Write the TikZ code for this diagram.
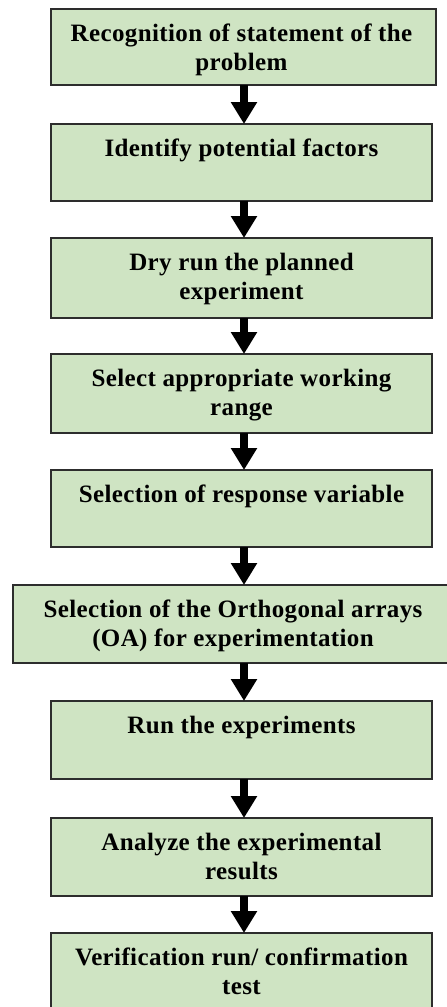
\documentclass[tikz,border=0pt]{standalone}
\usepackage{fontspec}
\setmainfont{Liberation Serif}[LetterSpace=1.5]
\usetikzlibrary{arrows.meta}

\definecolor{stepfill}{RGB}{207,228,195}
\definecolor{stepline}{RGB}{45,45,45}

\tikzset{
  stepbox/.style={draw=stepline, line width=1.6pt, fill=stepfill,
    inner sep=0pt, outer sep=0pt},
  steptext/.style={anchor=north, inner sep=0pt, align=center,
    font=\fontsize{25}{29.5}\selectfont\bfseries},
  flow/.style={line width=7.5pt, draw=black,
    -{Triangle[width=25pt,length=22pt]}},
}

% first-line strut so that every label's baseline sits 32pt below its box top
\newcommand\firstline{\rule{0pt}{20pt}}

\begin{document}
\begin{tikzpicture}[x=1pt,y=-1pt]
  \useasboundingbox (0,0) rectangle (447,1007);
  \clip (0,0) rectangle (447,1007);

  % process steps
  \node[stepbox, minimum width=385pt, minimum height=76pt] (b1) at (243.5,47) {};
  \node[stepbox, minimum width=381pt, minimum height=77pt] (b2) at (241.5,162.5) {};
  \node[stepbox, minimum width=381pt, minimum height=80pt] (b3) at (241.5,278) {};
  \node[stepbox, minimum width=381pt, minimum height=79pt] (b4) at (241.5,393.5) {};
  \node[stepbox, minimum width=381pt, minimum height=77pt] (b5) at (241.5,508.5) {};
  \node[stepbox, minimum width=450pt, minimum height=78pt] (b6) at (238,624) {};
  \node[stepbox, minimum width=381pt, minimum height=78pt] (b7) at (241.5,740) {};
  \node[stepbox, minimum width=381pt, minimum height=78pt] (b8) at (241.5,857) {};
  \node[stepbox, minimum width=381pt, minimum height=87pt] (b9) at (241.5,976.5) {};

  % step labels
  \node[steptext] (t1) at (241.5,21) {\firstline Recognition of statement of the\\problem};
  \node[steptext] (t2) at ([yshift=-12pt]b2.north) {\firstline Identify potential factors};
  \node[steptext] (t3) at ([yshift=-12pt]b3.north) {\firstline Dry run the planned\\experiment};
  \node[steptext] (t4) at ([yshift=-12pt]b4.north) {\firstline Select appropriate working\\range};
  \node[steptext] (t5) at ([yshift=-12pt]b5.north) {\firstline Selection of response variable};
  \node[steptext] (t6) at (233,597) {\firstline Selection of the Orthogonal arrays\\(OA) for experimentation};
  \node[steptext] (t7) at ([yshift=-12pt]b7.north) {\firstline Run the experiments};
  \node[steptext] (t8) at ([yshift=-12pt]b8.north) {\firstline Analyze the experimental\\results};
  \node[steptext] (t9) at ([yshift=-12pt]b9.north) {\firstline Verification run/ confirmation\\test};

  % connecting arrows run down a common vertical line
  \coordinate (spine) at (244,0);
  \foreach \a/\b in {b1/b2,b2/b3,b3/b4,b4/b5,b5/b6,b6/b7,b7/b8,b8/b9}
    \draw[flow] (\a.south -| spine) -- (\b.north -| spine);
\end{tikzpicture}
\end{document}
